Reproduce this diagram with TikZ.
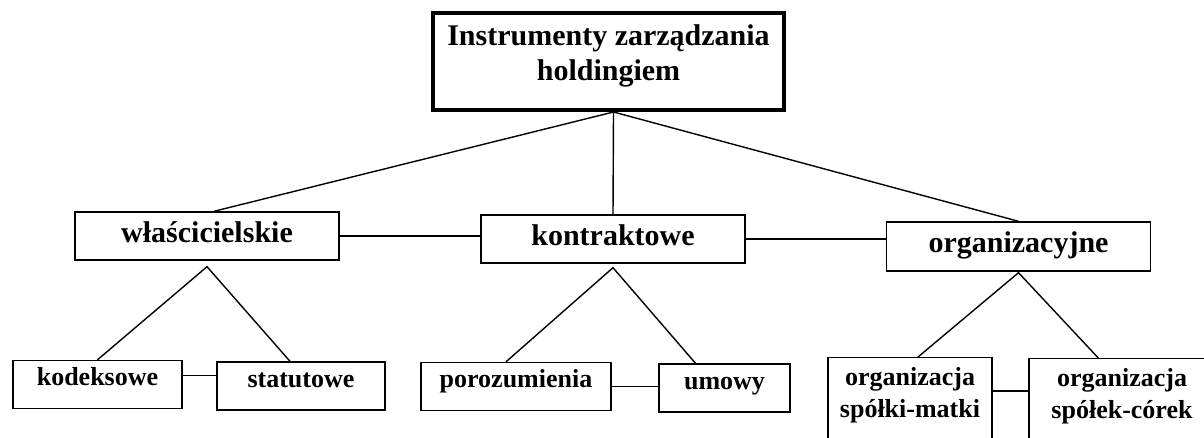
\documentclass[tikz,border=0pt]{standalone}
\usepackage{fontspec}
\setmainfont{Liberation Serif}
\usetikzlibrary{positioning}

\tikzset{
  head/.style={draw, line width=4pt, minimum width=351pt, minimum height=97pt,
    inner sep=4pt, align=center, text depth=18pt, font=\fontsize{30}{35}\selectfont\bfseries},
  kind/.style={draw, line width=1.4pt, minimum width=264pt, minimum height=48pt, inner sep=4pt,
    text height=22pt, text depth=9pt, font=\fontsize{30}{36}\selectfont\bfseries},
  sub/.style={draw, line width=1.4pt, minimum height=48pt, inner sep=4pt,
    text height=19pt, text depth=17pt, font=\fontsize{26}{32}\selectfont\bfseries},
  link/.style={line width=1.4pt}
}

\begin{document}
\begin{tikzpicture}[x=1pt,y=-1pt]
    \useasboundingbox (0,0) rectangle (1204,438);
    \clip (0,0) rectangle (1204,438);
    % main box
    \node[head] (top) at (608.5,61.5) {Instrumenty zarządzania\\holdingiem};
    % groups of instruments
    \node[kind] (wla) at (207,236) {właścicielskie};
    \node[kind] (kon) at (613,239) {kontraktowe};
    \node[kind, minimum height=49pt] (org) at (1018.5,246.5) {organizacyjne};
    % kinds
    \node[sub, minimum width=169pt] (kod) at (97.5,384.5) {kodeksowe};
    \node[sub, minimum width=168pt] (sta) at (301,386) {statutowe};
    \node[sub, minimum width=190pt] (por) at (516,386.5) {porozumienia};
    \node[sub, minimum width=131pt] (umo) at (724.5,388) {umowy};
    \node[draw, line width=1.4pt, font=\fontsize{26}{32}\selectfont\bfseries, anchor=north,
        align=center, inner sep=5pt, minimum width=164pt] (mat) at (910,357)
        {\strut organizacja\\spółki-matki\\\strut};
    \node[draw, line width=1.4pt, font=\fontsize{26}{32}\selectfont\bfseries, anchor=north,
        align=center, inner sep=5pt, minimum width=186pt] (cor) at (1122,358)
        {\strut organizacja\\spółek-córek\\\strut};
    % links from the top
    \draw[link] ([xshift=5pt]top.south) -- ([xshift=7pt]wla.north);
    \draw[link] ([xshift=5pt]top.south) -- (kon.north);
    \draw[link] ([xshift=5pt]top.south) -- (org.north);
    \draw[link] (wla.east) -- (wla.east -| kon.west);
    \draw[link] (kon.east) -- (kon.east -| org.west);
    % triangles
    \draw[link] (kod.north) -- ([yshift=-6pt]wla.south) -- ([xshift=-11pt]sta.north);
    \draw[link] ([xshift=-10pt]por.north) -- ([yshift=-4pt]kon.south) -- ([xshift=-29pt]umo.north);
    \draw[link] ([xshift=8pt]mat.north) -- ([yshift=-1pt]org.south) -- ([xshift=70pt]cor.north west);
    \draw[link] ([yshift=9pt]kod.east) -- ([yshift=9pt]kod.east -| sta.west);
    \draw[link] (por.east) -- (por.east -| umo.west);
    \draw[link] ([yshift=-34pt]mat.north east) -- ([yshift=-34pt]mat.north east -| cor.west);
\end{tikzpicture}
\end{document}
